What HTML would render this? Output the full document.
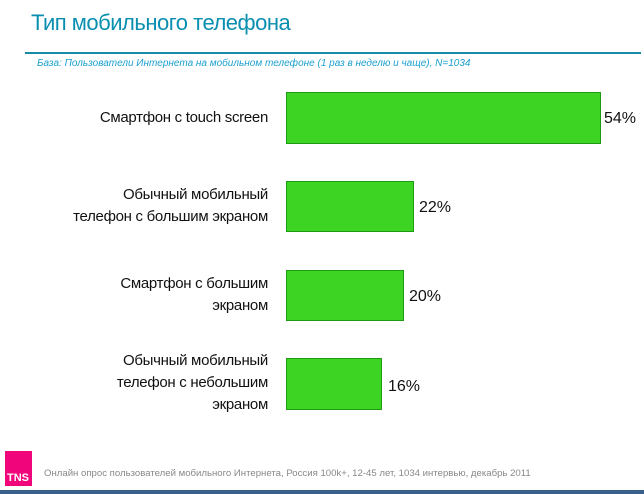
<!DOCTYPE html>
<html><head><meta charset="utf-8"><style>
body{margin:0;width:644px;height:494px;background:#fff;position:relative;overflow:hidden;font-family:"Liberation Sans","DejaVu Sans",sans-serif}
.a{position:absolute}
.bar{position:absolute;left:286px;background:#3dd424;border:1px solid #1f9a14;box-sizing:border-box}
.lab{position:absolute;right:376px;text-align:right;font-size:15px;line-height:22px;color:#111;letter-spacing:-0.3px}
.val{position:absolute;font-size:16px;color:#111}
</style></head><body>
<div class="a" style="left:31px;top:10px;font-size:22px;color:#0a8fb0;letter-spacing:-0.5px">Тип мобильного телефона</div>
<div class="a" style="left:25px;top:52px;width:616px;height:2px;background:#1a8aa8"></div>
<div class="a" style="left:37px;top:58px;font-size:10px;font-style:italic;color:#1aa0d0">Базa: Пользователи Интернета на мобильном телефоне (1 раз в неделю и чаще), N=1034</div>

<div class="lab" style="top:107px">Смартфон с touch screen</div>
<div class="bar" style="top:92px;width:315px;height:52px"></div>
<div class="val" style="left:604px;top:110px">54%</div>

<div class="lab" style="top:184px">Обычный мобильный<br>телефон с большим экраном</div>
<div class="bar" style="top:181px;width:128px;height:51px"></div>
<div class="val" style="left:419px;top:199px">22%</div>

<div class="lab" style="top:273px">Смартфон с большим<br>экраном</div>
<div class="bar" style="top:270px;width:118px;height:51px"></div>
<div class="val" style="left:409px;top:288px">20%</div>

<div class="lab" style="top:350px">Обычный мобильный<br>телефон с небольшим<br>экраном</div>
<div class="bar" style="top:358px;width:96px;height:52px"></div>
<div class="val" style="left:388px;top:378px">16%</div>

<div class="a" style="left:5px;top:451px;width:27px;height:35px;background:#f0057a"></div>
<div class="a" style="left:7px;top:472px;font-size:11px;font-weight:bold;color:#fff">TNS</div>
<div class="a" style="left:44px;top:468px;font-size:9.6px;color:#888">Онлайн опрос пользователей мобильного Интернета, Россия 100k+, 12-45 лет, 1034 интервью, декабрь 2011</div>
<div class="a" style="left:0;top:490px;width:644px;height:4px;background:#3a5f8a"></div>
</body></html>
